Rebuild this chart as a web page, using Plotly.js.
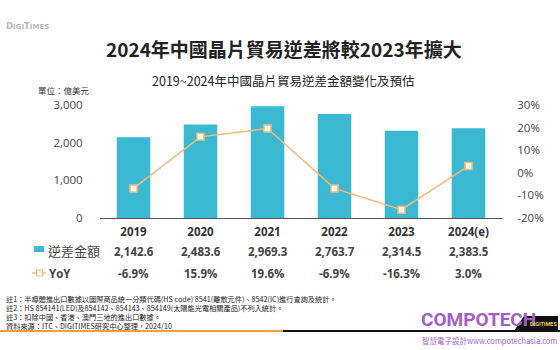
<!DOCTYPE html>
<html>
<head>
<meta charset="utf-8">
<script src="https://cdn.plot.ly/plotly-3.0.1.min.js"></script>
<style>
html,body{margin:0;padding:0;background:#fff;}
#chart{width:560px;height:350px;}
</style>
</head>
<body>
<div id="chart"></div>
<script>
// ---- data ----
const years = ['2019', '2020', '2021', '2022', '2023', '2024(e)'];
const deficit = [2142.6, 2483.6, 2969.3, 2763.7, 2314.5, 2383.5];
const yoy = [-6.9, 15.9, 19.6, -6.9, -16.3, 3.0];
const leftTicks = [0, 1000, 2000, 3000];
const rightTicks = [-20, -10, 0, 10, 20, 30];
const notes = [
  '註1：半導體進出口數據以國際商品統一分類代碼(HS code) 8541(離散元件)、8542(IC)進行查詢及統計。',
  '註2：HS 854141(LED)及854142、854143、854149(太陽能光電相關產品)不列入統計。',
  '註3：扣除中國、香港、澳門三地的進出口數據。',
  '資料來源：ITC、DIGITIMES研究中心整理，2024/10'
];

// ---- layout helpers (pixel -> paper) ----
const L = 100, R = 502, T = 105, B = 218;
const px = x => (x - L) / (R - L);
const py = y => (B - y) / (B - T);

const FONT = 'Open Sans, Noto Sans CJK TC, sans-serif';
const CJK = 'Noto Sans CJK TC, sans-serif';
const TXT = '#444444';
const TEAL = '#3bb8d2';
const ORANGE = '#f5b87a';
const PURPLE = '#a35ec8';

const traces = [
  {
    type: 'bar', x: years, y: deficit, name: '逆差金額',
    marker: {color: TEAL}, yaxis: 'y', hoverinfo: 'none'
  },
  {
    type: 'scatter', mode: 'lines+markers', x: years, y: yoy, name: 'YoY',
    yaxis: 'y2', line: {color: ORANGE, width: 1.5},
    marker: {symbol: 'square', size: 7, color: '#fffaf0', line: {color: ORANGE, width: 1.5}},
    hoverinfo: 'none'
  }
];

const ann = [];
// title & subtitle
ann.push({xref: 'paper', yref: 'paper', x: px(284), y: py(49), text: '<b>2024年中國晶片貿易逆差將較2023年擴大</b>',
  showarrow: false, font: {family: CJK, size: 19, color: '#222'}, xanchor: 'center', yanchor: 'middle'});
ann.push({xref: 'paper', yref: 'paper', x: px(283), y: py(80), text: '2019~2024年中國晶片貿易逆差金額變化及預估',
  showarrow: false, font: {family: CJK, size: 12.5, color: '#222'}, xanchor: 'center', yanchor: 'middle'});
ann.push({xref: 'paper', yref: 'paper', x: px(36), y: py(90), text: '單位：億美元',
  showarrow: false, font: {family: CJK, size: 8.5, color: '#333'}, xanchor: 'left', yanchor: 'middle'});
ann.push({xref: 'paper', yref: 'paper', x: px(4), y: py(26), text: '<b>D<span style="font-size:7px">IGI</span>T<span style="font-size:7px">IMES</span></b>',
  showarrow: false, font: {family: 'DejaVu Sans, sans-serif', size: 8.5, color: '#b8b8b8'}, xanchor: 'left', yanchor: 'middle'});

// table rows (x given as category index so the axis stays categorical)
years.forEach((yr, i) => {
  ann.push({xref: 'x', yref: 'paper', x: i, y: py(251), text: '<b>' + deficit[i].toLocaleString('en-US', {minimumFractionDigits: 1, maximumFractionDigits: 1}) + '</b>',
    showarrow: false, font: {family: FONT, size: 11.5, color: TXT}, xanchor: 'center', yanchor: 'middle'});
  ann.push({xref: 'x', yref: 'paper', x: i, y: py(273), text: '<b>' + yoy[i].toFixed(1) + '%</b>',
    showarrow: false, font: {family: FONT, size: 11.5, color: TXT}, xanchor: 'center', yanchor: 'middle'});
});
ann.push({xref: 'paper', yref: 'paper', x: px(46), y: py(250), text: '逆差金額',
  showarrow: false, font: {family: CJK, size: 13, color: TXT}, xanchor: 'left', yanchor: 'middle'});
ann.push({xref: 'paper', yref: 'paper', x: px(47), y: py(273), text: '<b>YoY</b>',
  showarrow: false, font: {family: FONT, size: 11.5, color: TXT}, xanchor: 'left', yanchor: 'middle'});

// notes
notes.forEach((n, i) => {
  ann.push({xref: 'paper', yref: 'paper', x: px(4), y: py(299 + i * 9), text: n,
    showarrow: false, font: {family: CJK, size: 7.2, color: '#222'}, xanchor: 'left', yanchor: 'middle'});
});

// watermark
ann.push({xref: 'paper', yref: 'paper', x: px(419), y: py(319), text: '<b>COMPOTECH</b>',
  showarrow: false, font: {family: 'Roboto, sans-serif', size: 19, color: PURPLE}, xanchor: 'left', yanchor: 'middle'});
ann.push({xref: 'paper', yref: 'paper', x: px(543), y: py(323.5), text: '<b>DIGITIMES</b>',
  showarrow: false, font: {family: 'Roboto, sans-serif', size: 5.5, color: '#e8c860'}, xanchor: 'center', yanchor: 'middle'});
ann.push({xref: 'paper', yref: 'paper', x: px(420), y: py(340), text: '智慧電子設計www.compotechasia.com',
  showarrow: false, font: {family: CJK, size: 7.5, color: PURPLE}, xanchor: 'left', yanchor: 'middle'});

const shapes = [
  // legend swatch
  {type: 'rect', xref: 'paper', yref: 'paper', x0: px(34), x1: px(44), y0: py(246), y1: py(252), fillcolor: TEAL, line: {width: 0}},
  {type: 'line', xref: 'paper', yref: 'paper', x0: px(32), x1: px(46), y0: py(273), y1: py(273), line: {color: ORANGE, width: 1.5}},
  {type: 'rect', xref: 'paper', yref: 'paper', x0: px(36.5), x1: px(42.5), y0: py(270), y1: py(276), fillcolor: '#fffaf0', line: {color: ORANGE, width: 1.2}},
  // bottom rule
  {type: 'line', xref: 'paper', yref: 'paper', x0: px(0), x1: px(283), y0: py(331), y1: py(331), line: {color: '#f0a030', width: 2}},
  {type: 'line', xref: 'paper', yref: 'paper', x0: px(283), x1: px(560), y0: py(331), y1: py(331), line: {color: '#111', width: 2}},
  {type: 'path', xref: 'paper', yref: 'paper',
    path: `M ${px(514)} ${py(331)} L ${px(524)} ${py(316)} L ${px(558)} ${py(316)} L ${px(558)} ${py(331)} Z`,
    fillcolor: '#111', line: {width: 0}}
];

const layout = {
  width: 560, height: 350,
  margin: {l: L, r: 560 - R, t: T, b: 350 - B, pad: 0},
  paper_bgcolor: '#fff', plot_bgcolor: '#fff',
  showlegend: false,
  bargap: 0.5,
  font: {family: FONT, color: TXT},
  xaxis: {
    type: 'category', range: [-0.5, years.length - 0.5], autorange: false,
    showline: true, linecolor: '#555', linewidth: 1,
    showgrid: false, zeroline: false, ticks: '', ticklabelstandoff: 3,
    tickfont: {family: FONT, size: 11.5, color: '#333', weight: 'bold'}
  },
  yaxis: {
    range: [0, 3000], tickvals: leftTicks, ticktext: leftTicks.map(v => v.toLocaleString('en-US')),
    showgrid: false, zeroline: false, showline: false,
    ticks: 'outside', ticklen: 14, tickcolor: 'rgba(0,0,0,0)',
    tickfont: {family: FONT, size: 11.5, color: TXT}
  },
  yaxis2: {
    overlaying: 'y', side: 'right', range: [-20, 30], tickvals: rightTicks, ticktext: rightTicks.map(v => v + '%'),
    showgrid: false, zeroline: false, showline: false,
    ticks: 'outside', ticklen: 12, tickcolor: 'rgba(0,0,0,0)',
    tickfont: {family: FONT, size: 11.5, color: TXT}
  },
  annotations: ann,
  shapes: shapes
};

Plotly.newPlot('chart', traces, layout, {staticPlot: true, displayModeBar: false});
</script>
</body>
</html>
